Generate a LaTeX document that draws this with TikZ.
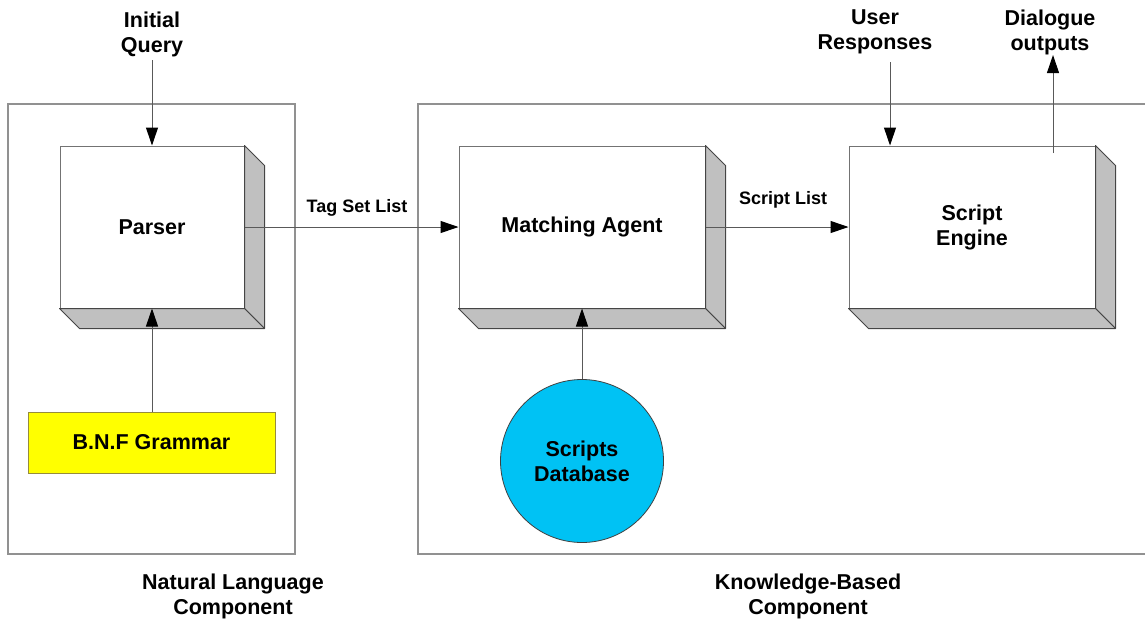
\documentclass[tikz,border=0pt]{standalone}
\usepackage{fontspec}
\setmainfont{Liberation Sans}
\usetikzlibrary{arrows.meta,positioning,calc}
\definecolor{framegray}{RGB}{145,145,145}
\definecolor{edgegray}{RGB}{115,115,115}
\definecolor{sidegray}{RGB}{192,192,192}
\definecolor{bnfyellow}{RGB}{255,255,0}
\definecolor{bnfborder}{RGB}{150,140,60}
\definecolor{dbcyan}{RGB}{0,194,244}

\begin{document}
\begin{tikzpicture}[x=1pt, y=-1pt,
    frontbox/.style={rectangle, draw=edgegray, fill=white, line width=1pt, minimum width=246pt, minimum height=162pt, font=\fontsize{21.5}{25}\selectfont\bfseries, align=center},
    sideface/.style={fill=sidegray, draw=edgegray!60!black, line width=1pt, line join=round},
    grambox/.style={rectangle, draw=bnfborder, fill=bnfyellow, line width=1pt, minimum width=247pt, minimum height=61pt, font=\fontsize{21.5}{25}\selectfont\bfseries},
    dbcircle/.style={circle, draw=black!75, fill=dbcyan, line width=0.8pt, minimum size=163pt, inner sep=0pt, font=\fontsize{21.5}{25}\selectfont\bfseries, align=center},
    textlab/.style={font=\fontsize{21.5}{25}\selectfont\bfseries, align=center},
    edgelab/.style={font=\fontsize{18}{20}\selectfont\bfseries},
    frame/.style={draw=framegray, line width=1.4pt},
    arrow/.style={-{Triangle[length=18pt,width=12pt,color=black]}, draw=black!65, line width=1pt}
]
    \useasboundingbox (0,0) rectangle (1145,622);

    % Component frames
    \draw[frame] (8,104) rectangle (295,554);
    \draw[frame] (1145,104) -- (418,104) -- (418,554) -- (1145,554);

    % Boxes
    \node[frontbox, minimum width=184pt] (parser) at (152,227) {Parser};
    \node[frontbox] (match) at (582,227) {Matching Agent};
    \node[frontbox] (engine) at (972,227) {Script\\Engine};
    \node[grambox] (bnf) at (151.5,442.5) {B.N.F Grammar};
    \node[dbcircle] (db) at (582,461) {Scripts\\Database};

    % 3D sides
    \foreach \b in {parser,match,engine} {
        \draw[sideface] (\b.north east) -- ([shift={(20,20)}]\b.north east) -- ([shift={(20,20)}]\b.south east) -- (\b.south east) -- cycle;
        \draw[sideface] (\b.south west) -- ([shift={(20,20)}]\b.south west) -- ([shift={(20,20)}]\b.south east) -- (\b.south east) -- cycle;
    }

    % Labels
    \node[textlab] (iq) at (152,34) {Initial\\Query};
    \node[textlab] (ur) at (875,32) {User\\Responses};
    \node[textlab] (dlg) at (1050,32) {Dialogue\\outputs};
    \node[textlab] (nlc) at (233,596) {Natural Language\\Component};
    \node[textlab] (kbc) at (808,596) {Knowledge-Based\\Component};
    \node[edgelab, anchor=base] (tsl) at (357,212) {Tag Set List};
    \node[edgelab, anchor=base] (sl) at (783,204) {Script List};

    % Arrows
    \coordinate (urin) at (890,62);
    \coordinate (dgin) at (1053,153);
    \coordinate (dgout) at (1053,55);
    \draw[arrow] (iq.south) -- (parser.north);
    \draw[arrow] (parser.south |- bnf.north) -- (parser.south);
    \draw[arrow] (parser.east) -- (match.west);
    \draw[arrow] (match.east) -- (engine.west);
    \draw[arrow] (db.north) -- (match.south);
    \draw[arrow] (urin) -- (urin |- engine.north);
    \draw[arrow] (dgin) -- (dgout);
\end{tikzpicture}
\end{document}
